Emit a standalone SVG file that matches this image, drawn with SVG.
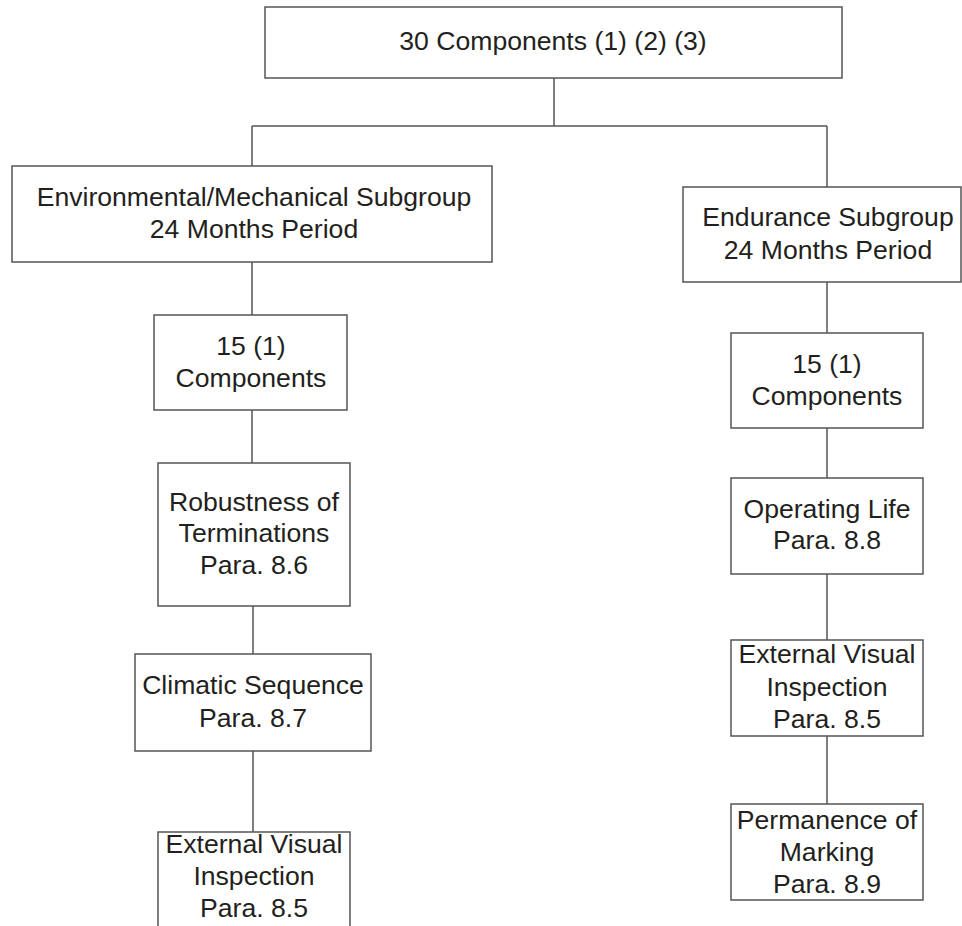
<svg xmlns="http://www.w3.org/2000/svg" width="962" height="926" viewBox="0 0 962 926">
<style>
.box{fill:#fff;stroke:#555;stroke-width:1.5}
.con{fill:none;stroke:#555;stroke-width:1.5}
text{font-family:"Liberation Sans",Arial,sans-serif;font-size:26.6px;fill:#231f20;text-anchor:middle}
</style>
<rect width="962" height="926" fill="#fff"/>
<g id="connectors">
<path class="con" d="M554 78V126M252 126H827M252 126V166M827 126V187"/>
<path class="con" d="M252 262V315M252 410V463M253 606V654M253 751V832"/>
<path class="con" d="M827 282V333M827 428V478M827 574V640M827 736V804"/>
</g>
<g id="n-top"><rect class="box" x="265" y="7" width="577" height="71"/><text x="553" y="50">30 Components (1) (2) (3)</text></g>
<g id="n-env"><rect class="box" x="12" y="166" width="480" height="96"/><text x="254" y="206">Environmental/Mechanical Subgroup</text><text x="254" y="238">24 Months Period</text></g>
<g id="n-end"><rect class="box" x="683" y="187" width="278" height="95"/><text x="828" y="226">Endurance Subgroup</text><text x="828" y="259">24 Months Period</text></g>
<g id="n-l15"><rect class="box" x="154" y="315" width="193" height="95"/><text x="251" y="355">15 (1)</text><text x="251" y="387">Components</text></g>
<g id="n-rob"><rect class="box" x="158" y="463" width="192" height="143"/><text x="254" y="511">Robustness of</text><text x="254" y="542">Terminations</text><text x="254" y="574">Para. 8.6</text></g>
<g id="n-cli"><rect class="box" x="135" y="654" width="236" height="97"/><text x="253" y="694">Climatic Sequence</text><text x="253" y="727">Para. 8.7</text></g>
<g id="n-lext"><rect class="box" x="158" y="832" width="192" height="140"/><text x="254" y="853">External Visual</text><text x="254" y="885">Inspection</text><text x="254" y="917">Para. 8.5</text></g>
<g id="n-r15"><rect class="box" x="731" y="333" width="192" height="95"/><text x="827" y="373">15 (1)</text><text x="827" y="405">Components</text></g>
<g id="n-op"><rect class="box" x="731" y="478" width="192" height="96"/><text x="827" y="518">Operating Life</text><text x="827" y="549">Para. 8.8</text></g>
<g id="n-rext"><rect class="box" x="731" y="640" width="192" height="96"/><text x="827" y="663">External Visual</text><text x="827" y="696">Inspection</text><text x="827" y="728">Para. 8.5</text></g>
<g id="n-perm"><rect class="box" x="731" y="804" width="192" height="96"/><text x="827" y="829">Permanence of</text><text x="827" y="861">Marking</text><text x="827" y="893">Para. 8.9</text></g>
</svg>
